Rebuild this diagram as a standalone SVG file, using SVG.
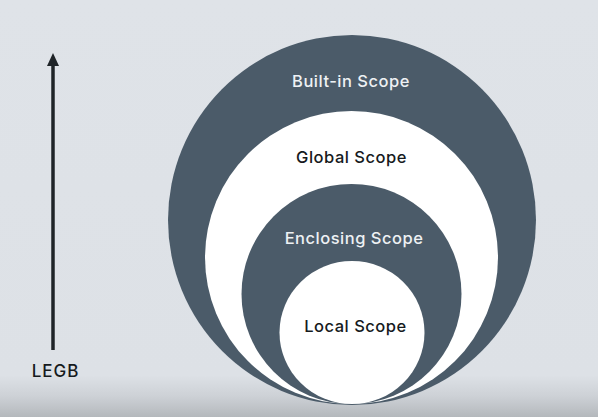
<svg xmlns="http://www.w3.org/2000/svg" width="598" height="417" viewBox="0 0 598 417">
  <defs>
    <linearGradient id="bg" x1="0" y1="0" x2="0" y2="1">
      <stop offset="0" stop-color="#dfe3e8"/>
      <stop offset="0.9" stop-color="#dde1e6"/>
      <stop offset="0.95" stop-color="#cdd1d6"/>
      <stop offset="1" stop-color="#b4b8bc"/>
    </linearGradient>
    <style>
      .dark { fill: #4b5b69; }
      .light { fill: #ffffff; }
      .lbl { font-family: Inter, "Liberation Sans", sans-serif; font-size: 16.5px; font-weight: 500; text-anchor: middle; letter-spacing: 0.5px; }
      .onDark { fill: #eef1f4; }
      .onLight { fill: #161a1d; }
      .legb { font-size: 17px; letter-spacing: 1px; }
    </style>
  </defs>
  <rect x="0" y="0" width="598" height="417" fill="url(#bg)"/>

  <g id="connectors">
    <line x1="53" y1="350" x2="53" y2="66" stroke="#1f2428" stroke-width="3.5"/>
    <path d="M47,66 L53,53 L59,66 Z" fill="#1f2428"/>
  </g>

  <g id="legb">
    <text class="lbl onLight legb" x="55.5" y="377">LEGB</text>
  </g>

  <g id="builtin">
    <ellipse class="dark" cx="352" cy="220" rx="184" ry="185"/>
    <text class="lbl onDark" x="351" y="87">Built-in Scope</text>
  </g>

  <g id="global">
    <ellipse class="light" cx="351.5" cy="257.5" rx="146.5" ry="146.5"/>
    <text class="lbl onLight" x="351.5" y="163">Global Scope</text>
  </g>

  <g id="enclosing">
    <ellipse class="dark" cx="351.5" cy="294" rx="110" ry="110"/>
    <text class="lbl onDark" x="354" y="244">Enclosing Scope</text>
  </g>

  <g id="local">
    <ellipse class="light" cx="352" cy="332.5" rx="72.5" ry="71.5"/>
    <text class="lbl onLight" x="355.5" y="332">Local Scope</text>
  </g>
</svg>
